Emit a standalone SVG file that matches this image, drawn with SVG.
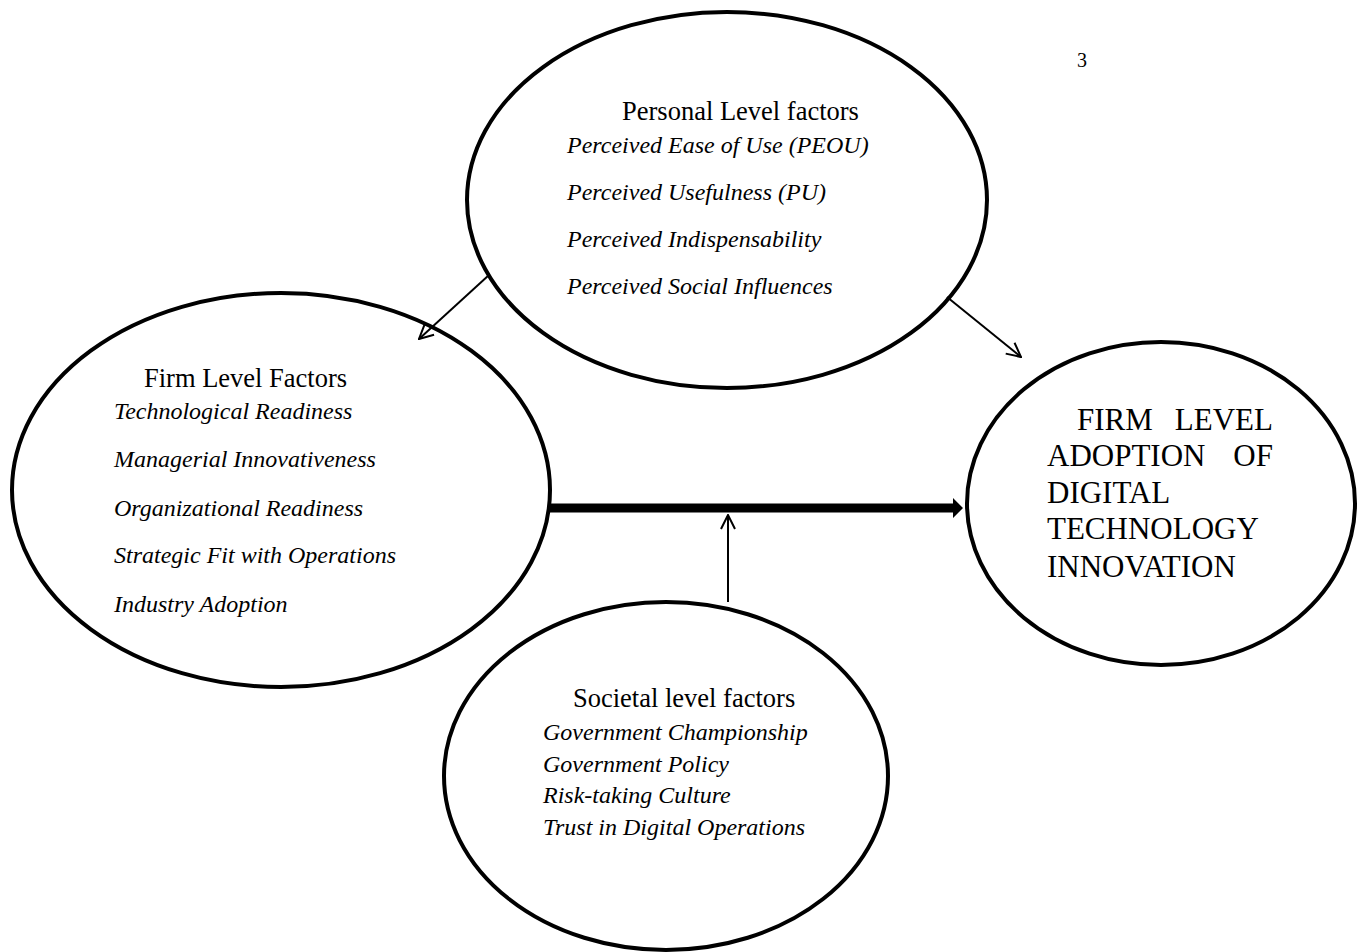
<svg xmlns="http://www.w3.org/2000/svg" width="1362" height="952" viewBox="0 0 1362 952">
<style>
.node{fill:#fff;stroke:#000;stroke-width:4}
.h{font-family:"Liberation Serif","Times New Roman",serif;font-size:26.5px;fill:#000}
.i{font-family:"Liberation Serif","Times New Roman",serif;font-size:24px;font-style:italic;fill:#000}
.big{font-family:"Liberation Serif","Times New Roman",serif;font-size:31px;fill:#000}
.pg{font-family:"Liberation Serif","Times New Roman",serif;font-size:20px;fill:#000}
.conn{stroke:#000;stroke-width:2;fill:none}
</style>
<defs>
<marker id="open" viewBox="0 0 16 16" refX="15" refY="8" markerWidth="16" markerHeight="16" markerUnits="userSpaceOnUse" orient="auto">
<path d="M1,1 L15,8 L1,15" fill="none" stroke="#000" stroke-width="2"/>
</marker>
</defs>
<rect width="1362" height="952" fill="#fff"/>
<text class="pg" x="1077" y="67">3</text>
<g id="personal">
<ellipse class="node" cx="727" cy="200" rx="260" ry="188"/>
<text class="h" x="622" y="120">Personal Level factors</text>
<text class="i" x="567" y="153">Perceived Ease of Use (PEOU)</text>
<text class="i" x="567" y="200">Perceived Usefulness (PU)</text>
<text class="i" x="567" y="247">Perceived Indispensability</text>
<text class="i" x="567" y="294">Perceived Social Influences</text>
</g>
<g id="firm">
<ellipse class="node" cx="281" cy="490" rx="269" ry="197"/>
<text class="h" x="144" y="387">Firm Level Factors</text>
<text class="i" x="114" y="419">Technological Readiness</text>
<text class="i" x="114" y="467">Managerial Innovativeness</text>
<text class="i" x="114" y="516">Organizational Readiness</text>
<text class="i" x="114" y="563">Strategic Fit with Operations</text>
<text class="i" x="114" y="612">Industry Adoption</text>
</g>
<g id="adoption">
<ellipse class="node" cx="1161" cy="503.5" rx="194" ry="161.5"/>
<text class="big" y="430"><tspan x="1077">FIRM</tspan><tspan x="1273" text-anchor="end">LEVEL</tspan></text>
<text class="big" y="466"><tspan x="1047">ADOPTION</tspan><tspan x="1273" text-anchor="end">OF</tspan></text>
<text class="big" x="1047" y="503">DIGITAL</text>
<text class="big" x="1047" y="539">TECHNOLOGY</text>
<text class="big" x="1047" y="577">INNOVATION</text>
</g>
<g id="societal">
<ellipse class="node" cx="666" cy="776" rx="222" ry="174"/>
<text class="h" x="573" y="707">Societal level factors</text>
<text class="i" x="543" y="740">Government Championship</text>
<text class="i" x="543" y="772">Government Policy</text>
<text class="i" x="543" y="803">Risk-taking Culture</text>
<text class="i" x="543" y="835">Trust in Digital Operations</text>
</g>
<g id="connectors">
<line class="conn" x1="489" y1="275" x2="419" y2="339" marker-end="url(#open)"/>
<line class="conn" x1="947" y1="297" x2="1021" y2="357" marker-end="url(#open)"/>
<line class="conn" x1="728" y1="602" x2="728" y2="515" marker-end="url(#open)"/>
<path d="M550,503.5 L953,503.5 L953,498 L963,508 L953,518 L953,512.5 L550,512.5 Z" fill="#000"/>
</g>
</svg>
